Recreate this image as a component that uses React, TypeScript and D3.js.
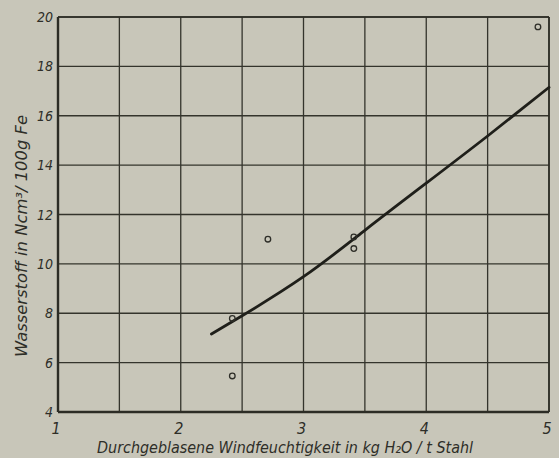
import React, { useEffect, useRef } from 'react'
import * as d3 from 'd3'

// measured points (Windfeuchtigkeit kg H2O/t Stahl, Wasserstoff Ncm3/100g Fe)
const pointX = [2.42, 2.42, 2.71, 3.41, 3.41, 4.91]
const pointY = [7.79, 5.46, 11.0, 11.09, 10.62, 19.6]

// drawn trend curve
const curveX = [2.25, 2.5, 3.0, 3.5, 4.0, 4.5, 5.0]
const curveY = [7.16, 7.9, 9.48, 11.36, 13.27, 15.18, 17.15]

const xTicks = [1, 2, 3, 4, 5]
const yTicks = [4, 6, 8, 10, 12, 14, 16, 18, 20]
const xGrid = [1, 1.5, 2, 2.5, 3, 3.5, 4, 4.5, 5]

const FONT = '"DejaVu Sans Condensed", "Liberation Sans Narrow", sans-serif'

function App() {
  const ref = useRef<SVGSVGElement>(null)

  useEffect(() => {
    const W = 559, H = 458
    const margin = { top: 17, right: 10, bottom: 46, left: 58 }
    const width = W - margin.left - margin.right
    const height = H - margin.top - margin.bottom

    const svg = d3.select(ref.current)
    svg.selectAll('*').remove()

    svg.append('rect').attr('width', W).attr('height', H).attr('fill', '#c8c6b9')

    const g = svg.append('g').attr('transform', `translate(${margin.left},${margin.top})`)

    const x = d3.scaleLinear().domain([1, 5]).range([0, width])
    const y = d3.scaleLinear().domain([4, 20]).range([height, 0])

    // grid
    g.selectAll('.vgrid')
      .data(xGrid)
      .enter().append('line')
      .attr('x1', d => x(d)).attr('x2', d => x(d))
      .attr('y1', 0).attr('y2', height)
      .attr('stroke', '#34342c').attr('stroke-width', 1.3)

    g.selectAll('.hgrid')
      .data(yTicks)
      .enter().append('line')
      .attr('x1', 0).attr('x2', width)
      .attr('y1', d => y(d)).attr('y2', d => y(d))
      .attr('stroke', '#34342c').attr('stroke-width', 1.3)

    // heavier axes on left and bottom
    g.append('line').attr('x1', 0).attr('x2', 0).attr('y1', 0).attr('y2', height)
      .attr('stroke', '#2c2c25').attr('stroke-width', 2.4)
    g.append('line').attr('x1', 0).attr('x2', width).attr('y1', height).attr('y2', height)
      .attr('stroke', '#2c2c25').attr('stroke-width', 2.4)
    g.append('line').attr('x1', 0).attr('x2', width).attr('y1', 0).attr('y2', 0)
      .attr('stroke', '#2c2c25').attr('stroke-width', 1.6)
    g.append('line').attr('x1', width).attr('x2', width).attr('y1', 0).attr('y2', height)
      .attr('stroke', '#2c2c25').attr('stroke-width', 1.6)

    // tick labels
    g.selectAll('.ylab')
      .data(yTicks)
      .enter().append('text')
      .attr('x', -5)
      .attr('y', d => y(d) + 5)
      .attr('text-anchor', 'end')
      .attr('font-family', FONT)
      .attr('font-style', 'italic')
      .attr('font-size', 14)
      .attr('fill', '#2e2e28')
      .text(d => d)

    g.selectAll('.xlab')
      .data(xTicks)
      .enter().append('text')
      .attr('x', d => x(d) - 2)
      .attr('y', height + 22)
      .attr('text-anchor', 'middle')
      .attr('font-family', FONT)
      .attr('font-style', 'italic')
      .attr('font-size', 16)
      .attr('fill', '#2e2e28')
      .text(d => d)

    // curve
    const curveData = curveX.map((v, i) => ({ x: v, y: curveY[i] }))
    g.append('path')
      .datum(curveData)
      .attr('fill', 'none')
      .attr('stroke', '#1f1f1a')
      .attr('stroke-width', 2.8)
      .attr('stroke-linecap', 'round')
      .attr('d', d3.line<{ x: number, y: number }>()
        .x(d => x(d.x))
        .y(d => y(d.y))
        .curve(d3.curveNatural))

    // points
    const pts = pointX.map((v, i) => ({ x: v, y: pointY[i] }))
    g.selectAll('.pt')
      .data(pts)
      .enter().append('circle')
      .attr('cx', d => x(d.x))
      .attr('cy', d => y(d.y))
      .attr('r', 2.8)
      .attr('fill', 'none')
      .attr('stroke', '#2e2e28')
      .attr('stroke-width', 1.3)

    // x title
    svg.append('text')
      .attr('x', 97)
      .attr('y', 453)
      .attr('font-family', FONT)
      .attr('font-style', 'italic')
      .attr('font-size', 16)
      .attr('fill', '#2e2e28')
      .attr('textLength', 376)
      .attr('lengthAdjust', 'spacingAndGlyphs')
      .text('Durchgeblasene Windfeuchtigkeit in kg H₂O / t Stahl')

    // y title
    svg.append('text')
      .attr('transform', 'translate(27,357) rotate(-90)')
      .attr('font-family', FONT)
      .attr('font-style', 'italic')
      .attr('font-size', 16)
      .attr('fill', '#2e2e28')
      .attr('textLength', 242)
      .attr('lengthAdjust', 'spacingAndGlyphs')
      .text('Wasserstoff in Ncm³/ 100g Fe')
  }, [])

  return (
    <svg ref={ref} width={559} height={458}
      style={{ position: 'absolute', left: 0, top: 0, display: 'block' }} />
  )
}

export default App
